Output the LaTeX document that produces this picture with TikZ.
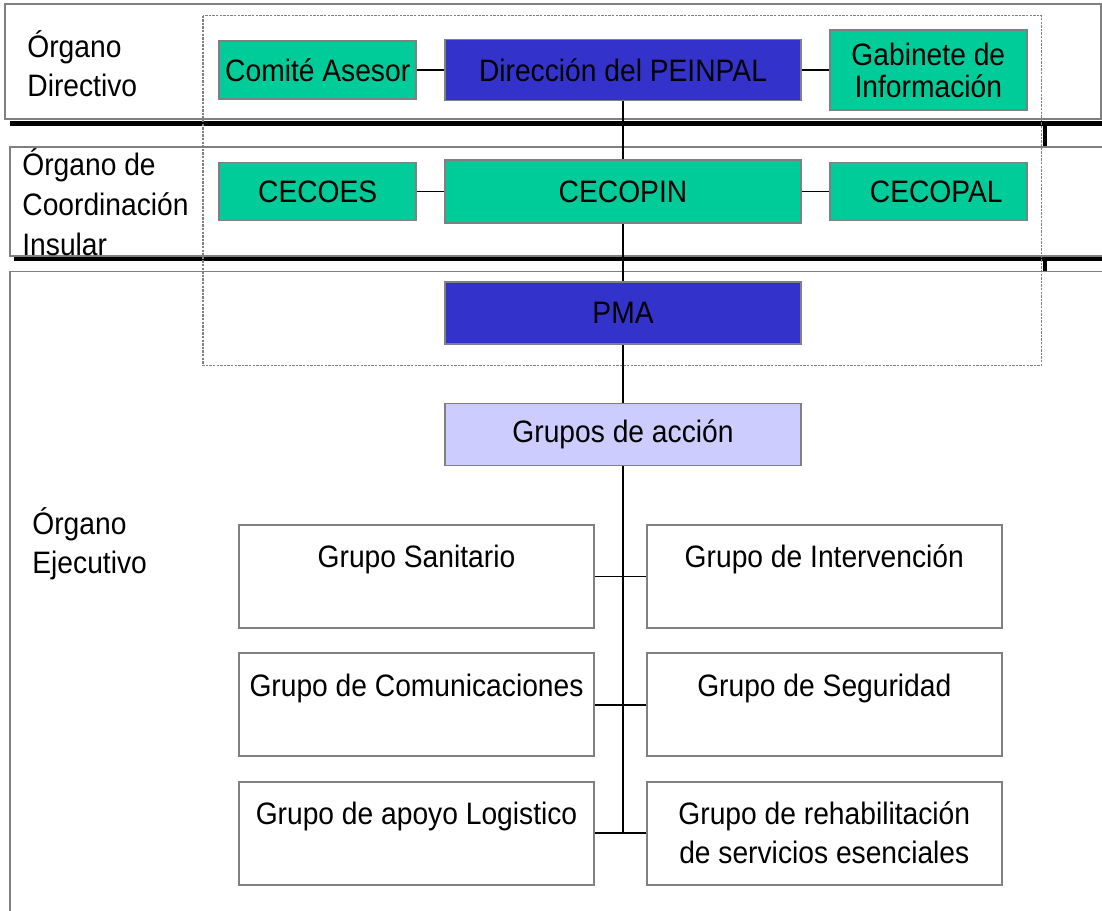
\documentclass[tikz,border=0pt]{standalone}
\usepackage{fontspec}
\setmainfont{Liberation Sans}[FakeStretch=0.91]
\usepackage{tikz}
\usetikzlibrary{positioning}
\definecolor{PlanVerde}{HTML}{00CC99}
\definecolor{PlanAzul}{HTML}{3333CC}
\definecolor{PlanLila}{HTML}{CCCCFF}
\definecolor{PlanGris}{HTML}{808080}

\begin{document}
\begin{tikzpicture}[x=0.5pt,y=-0.5pt,every node/.style={font=\fontsize{15.5}{19.5}\selectfont},
  caja/.style={draw=PlanGris,line width=0.9pt,inner sep=0pt,align=center},
  grupo/.style={caja,fill=white,minimum width=177.5pt,text height=21.4pt,text depth=30.1pt},
  etiqueta/.style={anchor=base west,align=left,inner sep=0pt},
  banda/.style={draw=PlanGris,line width=0.8pt},
  sombra/.style={line width=2.2pt},
  enlace/.style={line width=0.9pt}]
\useasboundingbox (0,0) rectangle (1102,910);
\clip (0,0) rectangle (1102,910);
% bandas de los organos
\draw[banda] (5,4) rectangle (1101,119);
\draw[banda] (10,147) rectangle (1120,256);
\draw[banda] (10,271.5) rectangle (1120,930);
\draw[sombra] (10,123.5) -- (1102,123.5);
\draw[sombra] (1045,123.5) -- (1045,146);
\draw[sombra] (14,259.2) -- (1102,259.2);
\draw[sombra] (1045,259.2) -- (1045,271);
\draw[PlanGris,line width=0.6pt,dash pattern=on 1.2pt off 0.6pt] (203,15.5) rectangle (1041.5,365.5);
\node[etiqueta] (directivo) at (27,96.5) {Órgano\\Directivo};
\node[etiqueta,font=\fontsize{15.5}{20}\selectfont] (insular) at (22,255) {Órgano de\\Coordinación\\Insular};
\node[etiqueta] (ejecutivo) at (32,573) {Órgano\\Ejecutivo};
% organo directivo y coordinacion
\node[caja,fill=PlanAzul,minimum width=178pt,minimum height=30.5pt] (direccion) at (623,70) {Dirección del PEINPAL};
\node[caja,fill=PlanVerde,minimum width=98.5pt,minimum height=29pt,left=13.5pt of direccion] (comite) {Comité Asesor};
\node[caja,fill=PlanVerde,minimum width=98.5pt,minimum height=40pt,right=13.5pt of direccion,font=\fontsize{15.5}{16}\selectfont] (gabinete) {Gabinete de\\Información};
\node[caja,fill=PlanVerde,minimum width=178pt,minimum height=31.5pt] (cecopin) at (623,191.5) {CECOPIN};
\node[caja,fill=PlanVerde,minimum width=98.5pt,minimum height=29pt,left=13.5pt of cecopin] (cecoes) {CECOES};
\node[caja,fill=PlanVerde,minimum width=98.5pt,minimum height=29pt,right=13.5pt of cecopin] (cecopal) {\hspace*{8pt}CECOPAL};
\node[caja,fill=PlanAzul,minimum width=178pt,minimum height=31pt] (pma) at (623,313) {PMA};
\node[caja,fill=PlanLila,minimum width=178pt,minimum height=31pt] (grupos) at (623,434.5) {Grupos de acción};
% grupos de accion
\node[grupo] (sanitario) at (416.5,576.5) {Grupo Sanitario};
\node[grupo,right=25.5pt of sanitario] (intervencion) {Grupo de Intervención};
\node[grupo,below=11.75pt of sanitario] (comunicaciones) {Grupo de Comunicaciones};
\node[grupo,right=25.5pt of comunicaciones] (seguridad) {Grupo de Seguridad};
\node[grupo,below=11.75pt of comunicaciones] (logistico) {Grupo de apoyo Logistico};
\node[grupo,right=25.5pt of logistico,text height=40.9pt,text depth=10.6pt] (rehabilitacion) {Grupo de rehabilitación\\de servicios esenciales};
\coordinate (fin) at (grupos.south |- logistico.east);
\draw[enlace] (comite) -- (direccion);
\draw[enlace] (direccion) -- (gabinete);
\draw[enlace] (cecoes) -- (cecopin);
\draw[enlace] (cecopin) -- (cecopal);
\draw[enlace] (direccion) -- (cecopin);
\draw[enlace] (cecopin) -- (pma);
\draw[enlace] (pma) -- (grupos);
\draw[enlace] (grupos) -- (fin);
\draw[enlace] (sanitario) -- (intervencion);
\draw[enlace] (comunicaciones) -- (seguridad);
\draw[enlace] (logistico) -- (rehabilitacion);
\end{tikzpicture}
\end{document}
